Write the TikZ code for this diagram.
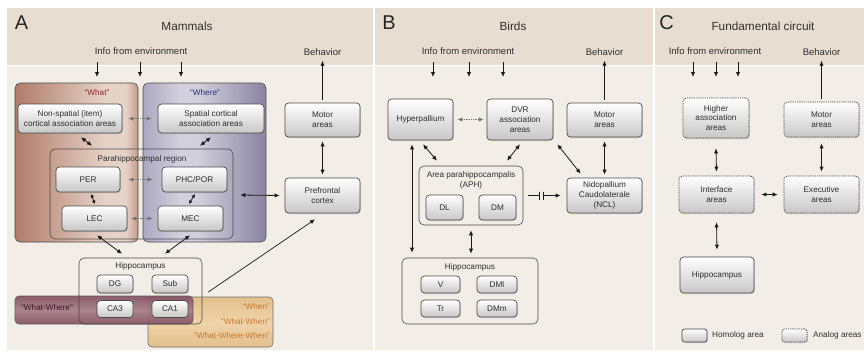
\documentclass[tikz,border=0pt]{standalone}
\usepackage{fontspec}
\setmainfont{Liberation Sans}
\usetikzlibrary{arrows.meta,shadows,calc}

\definecolor{hdr}{HTML}{E8DDD1}
\definecolor{bdy}{HTML}{F2EDE7}
\definecolor{boxline}{HTML}{4A4A4A}
\definecolor{txt}{HTML}{2E2E2E}
\definecolor{whatA}{HTML}{B07B69}
\definecolor{whatB}{HTML}{E6D3C8}
\definecolor{whatC}{HTML}{C39A8A}
\definecolor{whereA}{HTML}{ABA7C0}
\definecolor{whereB}{HTML}{D2D0DD}
\definecolor{whereC}{HTML}{8884A2}
\definecolor{wwEdge}{HTML}{845060}
\definecolor{wwMid}{HTML}{A47C88}
\definecolor{whenEdge}{HTML}{E3BF8C}
\definecolor{whenMid}{HTML}{EFD4AA}
\definecolor{whatTxt}{HTML}{8E2426}
\definecolor{whereTxt}{HTML}{2C2C7E}
\definecolor{whenTxt}{HTML}{C47A2E}
\definecolor{wwTxt}{HTML}{3B1424}

\pgfdeclarehorizontalshading{whatshade}{100bp}{color(0bp)=(whatA); color(25bp)=(whatA); color(62bp)=(whatB); color(70bp)=(whatB); color(75bp)=(whatC); color(100bp)=(whatC)}
\pgfdeclarehorizontalshading{whereshade}{100bp}{color(0bp)=(whereA); color(25bp)=(whereA); color(40bp)=(whereB); color(47bp)=(whereB); color(75bp)=(whereC); color(100bp)=(whereC)}

\tikzset{
  area/.style={draw=boxline, line width=0.7pt, rounded corners=3.5pt,
    top color=white, middle color=white, bottom color=black!22,
    drop shadow={shadow xshift=0.8pt, shadow yshift=-1pt, opacity=0.3},
    text=txt, font=\fontsize{8.2}{9.8}\selectfont, align=center, inner sep=1pt},
  analog/.style={area, dash pattern=on 1.3pt off 0.9pt},
  region/.style={draw=boxline, line width=0.6pt, rounded corners=5pt, inner sep=0pt},
  tipA/.tip={Latex[length=5pt,width=4.3pt]},
  tipS/.tip={Latex[length=3.8pt,width=3.6pt]},
  arr/.style={-tipA, line width=0.8pt, black!90},
  darr/.style={tipA-tipA, line width=0.8pt, black!90},
  sdarr/.style={tipS-tipS, line width=0.8pt, black!90},
  dotarr/.style={tipA-tipA, line width=0.8pt, black!55, dash pattern=on 0.9pt off 0.9pt},
  lbl/.style={font=\fontsize{9.5}{11}\selectfont, text=txt, inner sep=0pt},
  small/.style={font=\fontsize{8.2}{9.8}\selectfont, text=txt, inner sep=0pt, align=center},
  ttl/.style={font=\fontsize{11.8}{14}\selectfont, text=txt, inner sep=0pt},
  letter/.style={font=\fontsize{20}{22}\selectfont, text=black!85, inner sep=0pt},
}

\begin{document}
\begin{tikzpicture}[x=1pt,y=-1pt]
\useasboundingbox (0,0) rectangle (864,351);
\fill[white] (0,0) rectangle (864,351);

% panel backgrounds: header band and body
\foreach \a/\b in {7/373,375/653,655/864} {
  \fill[hdr] (\a,8) rectangle (\b,65);
  \fill[bdy] (\a,66) rectangle (\b,350);
}

% ---------------- Panel A: mammals ----------------
\node[letter] (letA) at (21.5,23) {A};
\node[ttl] (titA) at (187,26) {Mammals};
\node[lbl] (infoA) at (141,51) {Info from environment};
\node[lbl] (behA) at (322.5,52) {Behavior};
\foreach \x in {97,140,181} \draw[arr] (\x,62) -- (\x,77);

\path[shade, shading=whatshade, draw=boxline, line width=0.6pt, rounded corners=5pt] (15,83) rectangle (138,242);
\path[shade, shading=whereshade, draw=boxline, line width=0.6pt, rounded corners=5pt] (143,83) rectangle (266,242);
\node[small, text=whatTxt] (whatL) at (97,93) {“What”};
\node[small, text=whereTxt] (whereL) at (205,93) {“Where”};

\node[area, minimum width=104pt, minimum height=29pt] (nsp) at (70,118.5) {Non-spatial (item)\\cortical association areas};
\node[area, minimum width=106pt, minimum height=29pt] (spa) at (211,118.5) {Spatial cortical\\association areas};

\node[region, minimum width=183pt, minimum height=90pt] (phr) at (141.5,194) {};
\node[small] (phrL) at (142,159) {Parahippocampal region};

\node[area, minimum width=64pt, minimum height=25pt] (per) at (88,179.5) {PER};
\node[area, minimum width=65pt, minimum height=25pt] (phc) at (194.5,179.5) {PHC/POR};
\node[area, minimum width=65pt, minimum height=25pt] (lec) at (94.5,218.5) {LEC};
\node[area, minimum width=65pt, minimum height=25pt] (mec) at (190.5,218.5) {MEC};

\node[area, minimum width=75pt, minimum height=34pt] (motA) at (322.5,120) {Motor\\areas};
\node[area, minimum width=75pt, minimum height=35pt] (pfc) at (322.5,195.5) {Prefrontal\\cortex};

% temporal bands across the hippocampus
\path[draw=boxline!80, line width=0.6pt, rounded corners=4pt, top color=whenEdge, bottom color=whenEdge, middle color=whenMid] (148,297) rectangle (273,347);
\path[draw=boxline!90, line width=0.6pt, rounded corners=4pt, top color=wwEdge, bottom color=wwEdge, middle color=wwMid, fill opacity=0.92] (15,296) rectangle (193,324);
\node[small, text=wwTxt] (wwL) at (47,308) {“What-Where”};
\node[small, text=whenTxt, anchor=east] (whenL1) at (270,307) {“When”};
\node[small, text=whenTxt, anchor=east] (whenL2) at (270,322) {“What-When”};
\node[small, text=whenTxt, anchor=east] (whenL3) at (270,336) {“What-Where-When”};

\node[region, minimum width=123pt, minimum height=66pt] (hipA) at (140.5,291) {};
\node[small] (hipAL) at (140.5,266) {Hippocampus};
\node[area, minimum width=36pt, minimum height=18pt] (dg) at (115,284) {DG};
\node[area, minimum width=36pt, minimum height=18pt] (sub) at (170,284) {Sub};
\node[area, minimum width=36pt, minimum height=17pt] (ca3) at (115,309) {CA3};
\node[area, minimum width=36pt, minimum height=17pt] (ca1) at (170,309) {CA1};

\draw[dotarr] ($(nsp.east)+(6,0)$) -- ($(spa.west)+(-6,0)$);
\draw[darr] ($(nsp.south)+(11,4)$) -- ($(phr.north)+(-49.5,-3)$);
\draw[darr] ($(spa.south)+(0,4)$) -- ($(phr.north)+(58.5,-3)$);
\draw[dotarr] ($(per.east)+(8,0)$) -- ($(phc.west)+(-9,0)$);
\draw[sdarr] ($(per.south)+(3,1.5)$) -- ($(lec.north)+(0.5,-1.5)$);
\draw[sdarr] ($(phc.south)+(0.5,1.5)$) -- ($(mec.north)+(-1.5,-1.5)$);
\draw[dotarr] ($(lec.east)+(4,0)$) -- ($(mec.west)+(-5,0)$);
\draw[darr] ($(phr.east)+(7,1)$) -- ($(pfc.west)+(-5,0)$);
\draw[darr] ($(lec.south)+(2.5,4)$) -- ($(hipA.north)+(-18.5,-4)$);
\draw[darr] ($(mec.south)+(-0.5,4)$) -- ($(hipA.north)+(24.5,-4)$);
\draw[arr, line width=0.7pt] ($(hipA.east)+(6,1)$) -- ($(pfc.south)+(-7.5,6)$);
\draw[arr] ($(motA.north)+(0,-3)$) -- ($(behA.south)+(0,5)$);
\draw[darr] ($(motA.south)+(0,4)$) -- ($(pfc.north)+(0,-3)$);

% ---------------- Panel B: birds ----------------
\node[letter] (letB) at (389,23) {B};
\node[ttl] (titB) at (513,26) {Birds};
\node[lbl] (infoB) at (468,51) {Info from environment};
\node[lbl] (behB) at (604.5,52) {Behavior};
\foreach \x in {433,469,503} \draw[arr] (\x,62) -- (\x,77);

\node[area, minimum width=65pt, minimum height=41pt] (hyp) at (420.5,119.5) {Hyperpallium};
\node[area, minimum width=66pt, minimum height=41pt] (dvr) at (520,119.5) {DVR\\association\\areas};
\node[area, minimum width=75pt, minimum height=34pt] (motB) at (604.5,120) {Motor\\areas};
\node[area, minimum width=75pt, minimum height=35pt] (ncl) at (604.5,195.5) {Nidopallium\\Caudolaterale\\(NCL)};

\node[region, minimum width=104pt, minimum height=59pt] (aph) at (471,195.5) {};
\node[small] (aphL) at (471,180) {Area parahippocampalis\\(APH)};
\node[area, minimum width=37pt, minimum height=25pt] (dl) at (444.5,207.5) {DL};
\node[area, minimum width=37pt, minimum height=25pt] (dm) at (497.5,207.5) {DM};

\node[region, minimum width=136pt, minimum height=66pt] (hipB) at (470,291) {};
\node[small] (hipBL) at (470,267) {Hippocampus};
\node[area, minimum width=39pt, minimum height=17pt] (v) at (440.5,284.5) {V};
\node[area, minimum width=40pt, minimum height=17pt] (dml) at (497,284.5) {DMl};
\node[area, minimum width=39pt, minimum height=17pt] (tr) at (440.5,308.5) {Tr};
\node[area, minimum width=40pt, minimum height=17pt] (dmm) at (497,308.5) {DMm};

\draw[dotarr] ($(hyp.east)+(4,0)$) -- ($(dvr.west)+(-3,0)$);
\draw[arr] ($(motB.north)+(0,-3)$) -- ($(behB.south)+(0,5)$);
\draw[darr] ($(motB.south)+(0,4)$) -- ($(ncl.north)+(0,-3)$);
\draw[darr] ($(dvr.south east)+(4,4)$) -- ($(ncl.north west)+(14,-4)$);
\draw[darr] ($(hyp.south)+(2.5,4)$) -- ($(aph.north)+(-34,-5)$);
\draw[darr] ($(dvr.south)+(0,4)$) -- ($(aph.north)+(36,-5)$);
\draw[darr] ($(hyp.south)+(-8.5,4)$) -- ($(hipB.north)+(-58,-5)$);
\draw[darr] ($(aph.south)+(0,5)$) -- ($(aph.south |- hipB.north)+(0,-4)$);
% blocked pathway from APH to NCL
\draw[line width=0.8pt, black!90] ($(aph.east)+(5,0)$) -- ($(aph.east)+(16.5,0)$);
\draw[line width=0.8pt, black!90] ($(aph.east)+(16.5,-4)$) -- ($(aph.east)+(16.5,4)$);
\draw[line width=0.8pt, black!90] ($(aph.east)+(20,-4)$) -- ($(aph.east)+(20,4)$);
\draw[arr] ($(aph.east)+(20,0)$) -- ($(ncl.west)+(-6,0)$);

% ---------------- Panel C: fundamental circuit ----------------
\node[letter] (letC) at (666.5,23) {C};
\node[ttl] (titC) at (763,26) {Fundamental circuit};
\node[lbl] (infoC) at (715,51) {Info from environment};
\node[lbl] (behC) at (821.5,52) {Behavior};
\foreach \x in {693,716,738} \draw[arr] (\x,62) -- (\x,77);

\node[analog, minimum width=66pt, minimum height=40pt] (hig) at (716,118) {Higher\\association\\areas};
\node[analog, minimum width=75pt, minimum height=35pt] (motC) at (821.5,119.5) {Motor\\areas};
\node[analog, minimum width=75pt, minimum height=37pt] (int) at (716.5,194.5) {Interface\\areas};
\node[analog, minimum width=75pt, minimum height=37pt] (exe) at (821.5,194.5) {Executive\\areas};
\node[area, minimum width=74pt, minimum height=36pt] (hipC) at (717,275) {Hippocampus};

\draw[arr] ($(motC.north)+(0,-3)$) -- ($(behC.south)+(0,5)$);
\draw[darr] ($(hig.south)+(0,10)$) -- ($(int.north)+(0,-4)$);
\draw[darr] ($(motC.south)+(0,6)$) -- ($(exe.north)+(0,-4)$);
\draw[darr] ($(int.east)+(7,0)$) -- ($(exe.west)+(-6,0)$);
\draw[darr] ($(int.south)+(0,9)$) -- ($(hipC.north)+(0,-7)$);

% legend
\node[area, minimum width=25pt, minimum height=13pt, rounded corners=2.5pt] (legH) at (694.5,335.5) {};
\node[small, anchor=west] (legHL) at (712,335.5) {Homolog area};
\node[analog, minimum width=25pt, minimum height=13pt, rounded corners=2.5pt] (legA) at (794.5,335.5) {};
\node[small, anchor=west] (legAL) at (813,335.5) {Analog areas};
\end{tikzpicture}
\end{document}
